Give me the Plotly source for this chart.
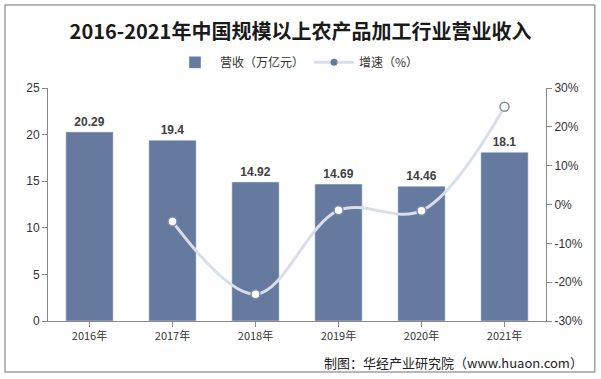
import plotly.graph_objects as go

years = ["2016年", "2017年", "2018年", "2019年", "2020年", "2021年"]
revenue = [20.29, 19.4, 14.92, 14.69, 14.46, 18.1]
growth_years = ["2017年", "2018年", "2019年", "2020年", "2021年"]
growth = [-4.4, -23.1, -1.5, -1.6, 25.2]
left_ticks = [0, 5, 10, 15, 20, 25]
right_ticks = [-30, -20, -10, 0, 10, 20, 30]

BAR = "#66799f"
LINE = "#d8deea"
FONT = "Noto Sans CJK SC, Arial, sans-serif"

fig = go.Figure()
fig.add_trace(go.Bar(
    x=years, y=revenue, name="营收（万亿元）", marker_color=BAR, width=0.57,
    text=[f"<b>{v:g}</b>" for v in revenue], textposition="outside",
    textfont=dict(size=12, color="#404040", family="Arial"),
    cliponaxis=False,
))
fig.add_trace(go.Scatter(
    x=growth_years, y=growth, name="增速（%）", yaxis="y2",
    mode="lines+markers", line=dict(color=LINE, width=3, shape="spline", smoothing=1.0),
    marker=dict(size=9, color="white", line=dict(color="#7d8aa6", width=1.5)),
    showlegend=False,
))
# legend entry for line (filled dot as in reference legend)
fig.add_trace(go.Scatter(
    x=[None], y=[None], name="增速（%）", yaxis="y2",
    mode="lines+markers", line=dict(color=LINE, width=3),
    marker=dict(size=7, color="#66799f"),
))

fig.update_layout(
    width=601, height=379,
    margin=dict(l=48, r=55, t=88, b=58, autoexpand=False),
    paper_bgcolor="white", plot_bgcolor="white",
    title=dict(text="<b>2016-2021年中国规模以上农产品加工行业营业收入</b>", x=0.5, xanchor="center",
               y=0.916, yanchor="middle", font=dict(size=20, color="#1a1a1a", family=FONT)),
    legend=dict(orientation="h", x=0.5, xanchor="center", y=1.11, yanchor="middle",
                font=dict(size=12, color="#333", family=FONT), itemwidth=40),
    font=dict(family=FONT, size=12, color="#333"),
    xaxis=dict(showline=True, linecolor="#888", ticks="outside", tickcolor="#888",
               tickfont=dict(size=11, family=FONT, color="#333"), showgrid=False),
    yaxis=dict(range=[0, 25], tickvals=left_ticks, showline=True, linecolor="#888",
               ticks="outside", tickcolor="#888", ticklen=5, showgrid=False, zeroline=False,
               tickfont=dict(size=12, family="Arial", color="#333")),
    yaxis2=dict(range=[-30, 30], tickvals=right_ticks, ticktext=[f"{t}%" for t in right_ticks],
                overlaying="y", side="right", showline=True, linecolor="#888",
                ticks="outside", tickcolor="#888", ticklen=5, showgrid=False, zeroline=False,
                tickfont=dict(size=12, family="Arial", color="#333")),
    showlegend=True,
)
fig.add_shape(type="rect", xref="paper", yref="paper", x0=-0.0863, x1=1.098, y0=-0.219, y1=1.356,
              line=dict(color="#a0a0a0", width=1.5))
fig.add_annotation(text="制图：华经产业研究院（www.huaon.com）", xref="paper", yref="paper",
                   x=1.078, y=-0.18, xanchor="right", yanchor="middle", showarrow=False,
                   font=dict(size=13, color="#222", family=FONT))
fig.write_html("out.html", config={"displayModeBar": False},
               post_script="document.body.style.margin='0';document.body.style.overflow='hidden';")
